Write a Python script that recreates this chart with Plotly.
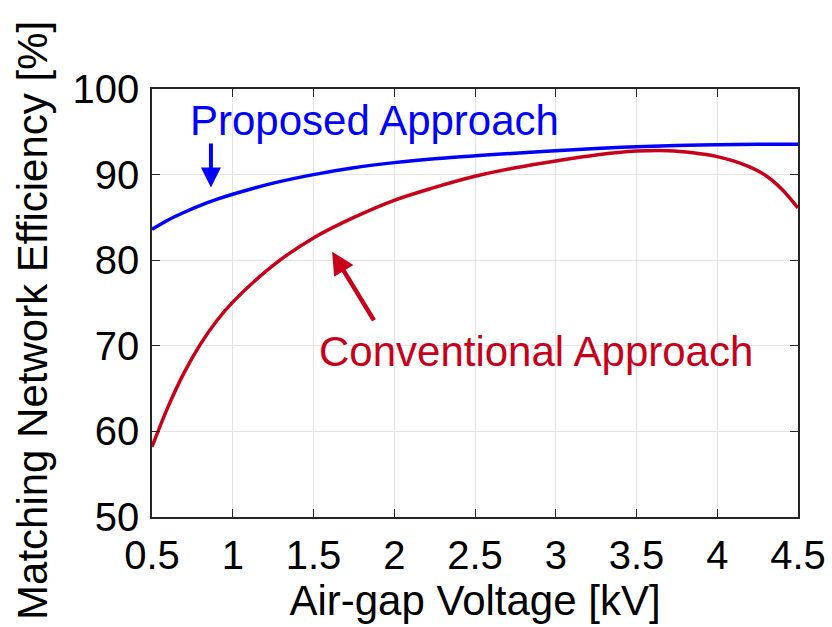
import plotly.graph_objects as go

# Data
voltage_prop = [0.5, 0.6, 0.7, 0.8, 0.9, 1.0, 1.25, 1.5, 1.75, 2.0, 2.25, 2.5, 2.75,
                3.0, 3.25, 3.5, 3.75, 4.0, 4.25, 4.5]
eff_prop = [83.6, 84.7, 85.6, 86.4, 87.1, 87.7, 89.0, 90.0, 90.8, 91.4, 91.85, 92.2, 92.5,
            92.8, 93.05, 93.25, 93.4, 93.5, 93.55, 93.55]

voltage_conv = [0.5, 0.6, 0.7, 0.8, 0.9, 1.0, 1.25, 1.5, 1.75, 2.0, 2.25, 2.5, 2.75,
                3.0, 3.25, 3.5, 3.7, 3.85, 4.0, 4.1, 4.2, 4.3, 4.4, 4.5]
eff_conv = [58.2, 62.9, 66.9, 70.2, 72.9, 75.1, 79.4, 82.6, 85.0, 87.0, 88.5, 89.8, 90.8,
            91.6, 92.3, 92.75, 92.8, 92.55, 92.1, 91.6, 90.9, 89.9, 88.3, 86.1]

x_ticks = [0.5, 1, 1.5, 2, 2.5, 3, 3.5, 4, 4.5]
x_tick_labels = ["0.5", "1", "1.5", "2", "2.5", "3", "3.5", "4", "4.5"]
y_ticks = [50, 60, 70, 80, 90, 100]
y_tick_labels = ["50", "60", "70", "80", "90", "100"]

BLUE = "#0000FF"
RED = "#C8001A"
FONT = "Liberation Sans, Arial, sans-serif"

fig = go.Figure()
fig.add_trace(go.Scatter(x=voltage_prop, y=eff_prop, mode="lines",
                         line=dict(color=BLUE, width=3.5, shape="spline"),
                         showlegend=False))
fig.add_trace(go.Scatter(x=voltage_conv, y=eff_conv, mode="lines",
                         line=dict(color=RED, width=3.5, shape="spline"),
                         showlegend=False))

axis_common = dict(
    showline=True, linecolor="#262626", linewidth=1.5, mirror="ticks",
    ticks="inside", ticklen=8, tickcolor="#262626", tickwidth=1.2,
    showgrid=True, gridcolor="#E3E3E3", gridwidth=1,
    zeroline=False, tickfont=dict(family=FONT, size=40, color="black"),
)

fig.update_xaxes(range=[0.5, 4.5], tickvals=x_ticks, ticktext=x_tick_labels,
                 ticklabelstandoff=2,
                 title=dict(text="Air-gap Voltage [kV]",
                            font=dict(family=FONT, size=42, color="black"),
                            standoff=4),
                 **axis_common)
fig.update_yaxes(range=[50, 100], tickvals=y_ticks, ticktext=y_tick_labels,
                 ticklabelstandoff=3,
                 **axis_common)

# Y-axis title (placed as rotated text to match the reference position)
fig.add_annotation(x=-0.186, y=0.46, xref="paper", yref="paper",
                   text="Matching Network Efficiency [%]", textangle=-90,
                   showarrow=False, font=dict(family=FONT, size=42, color="black"),
                   xanchor="center", yanchor="middle")

fig.add_annotation(x=1.88, y=96.3, text="Proposed Approach", showarrow=False,
                   font=dict(family=FONT, size=42, color=BLUE),
                   xanchor="center", yanchor="middle")
fig.add_annotation(x=2.88, y=69.3, text="Conventional Approach", showarrow=False,
                   font=dict(family=FONT, size=42, color=RED),
                   xanchor="center", yanchor="middle")

# Arrows
fig.add_annotation(x=0.865, y=88.5, ax=0.865, ay=93.8, xref="x", yref="y",
                   axref="x", ayref="y", text="", showarrow=True,
                   arrowhead=2, arrowsize=1.0, arrowwidth=4, arrowcolor=BLUE)
fig.add_annotation(x=1.615, y=81.0, ax=1.88, ay=72.8, xref="x", yref="y",
                   axref="x", ayref="y", text="", showarrow=True,
                   arrowhead=2, arrowsize=1.0, arrowwidth=4.5, arrowcolor=RED)

fig.update_layout(
    width=832, height=627,
    margin=dict(l=152, r=34, t=89, b=110, autoexpand=False),
    paper_bgcolor="white", plot_bgcolor="white",
    font=dict(family=FONT),
)

fig.write_html("out.html")
